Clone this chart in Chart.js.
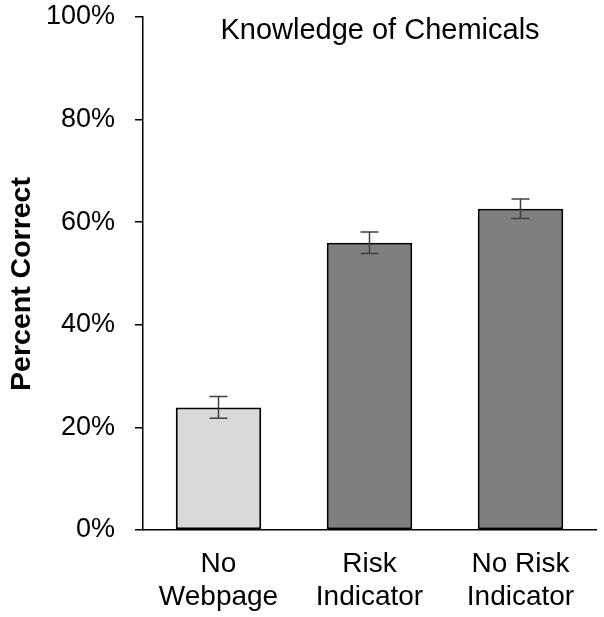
<!DOCTYPE html>
<html>
<head>
<meta charset="utf-8">
<script src="https://cdn.jsdelivr.net/npm/chart.js@4"></script>
<style>
  body { margin: 0; background: #fff; }
</style>
</head>
<body>
<canvas id="myChart" width="604" height="617"></canvas>
<script>
const categories = [["No", "Webpage"], ["Risk", "Indicator"], ["No Risk", "Indicator"]];
const percentCorrect = [23.9, 56.0, 62.6];
const errors = [2.1, 2.1, 1.9];
const yTicks = [0, 20, 40, 60, 80, 100];

const FONT = "Arial, 'Liberation Sans', sans-serif";

const ctx = document.getElementById("myChart").getContext("2d");

new Chart(ctx, {
  type: "bar",
  data: {
    labels: categories,
    datasets: [
      {
        data: percentCorrect,
        backgroundColor: ["#d9d9d9", "#7f7f7f", "#7f7f7f"],
        borderColor: "#000",
        borderWidth: 2,
        borderSkipped: false,
        barPercentage: 0.566,
        categoryPercentage: 1,
      },
    ],
  },
  options: {
    responsive: false,
    animation: false,
    layout: {
      padding: { top: 17, right: 8, left: 0, bottom: 0 },
    },
    plugins: {
      legend: { display: false },
      tooltip: { enabled: false },
    },
    scales: {
      x: {
        grid: { display: false },
        border: { color: "#000", width: 1.5 },
        ticks: {
          color: "#000",
          font: { family: FONT, size: 28, lineHeight: 1.17 },
          padding: 10,
          maxRotation: 0,
        },
        afterFit(scale) {
          scale.height = 87;
          scale.paddingTop = 0;
          scale.paddingBottom = 0;
        },
      },
      y: {
        min: 0,
        max: 100,
        afterBuildTicks(scale) {
          scale.ticks = yTicks.map((v) => ({ value: v }));
        },
        grid: {
          drawOnChartArea: false,
          drawTicks: true,
          tickLength: 8,
          color: "#000",
          lineWidth: 1.5,
        },
        border: { color: "#000", width: 1.5 },
        ticks: {
          color: "#000",
          font: { family: FONT, size: 27 },
          padding: 20,
          callback: (v) => v + "%",
        },
        afterFit(scale) {
          scale.width = 143;
          scale.paddingTop = 0;
          scale.paddingBottom = 0;
        },
      },
    },
  },
  plugins: [
    {
      id: "errorBarsAndText",
      afterDatasetsDraw(chart) {
        const { ctx, scales } = chart;
        const meta = chart.getDatasetMeta(0);

        ctx.save();
        // エラーバー
        ctx.strokeStyle = "#404040";
        ctx.lineWidth = 1.5;
        meta.data.forEach((bar, i) => {
          const x = bar.x;
          const yTop = scales.y.getPixelForValue(percentCorrect[i] + errors[i]);
          const yBot = scales.y.getPixelForValue(percentCorrect[i] - errors[i]);
          ctx.beginPath();
          ctx.moveTo(x, yTop);
          ctx.lineTo(x, yBot);
          ctx.moveTo(x - 9, yTop);
          ctx.lineTo(x + 9, yTop);
          ctx.moveTo(x - 9, yBot);
          ctx.lineTo(x + 9, yBot);
          ctx.stroke();
        });

        // タイトル
        ctx.fillStyle = "#000";
        ctx.font = "29px " + FONT;
        ctx.textAlign = "center";
        ctx.textBaseline = "middle";
        ctx.fillText("Knowledge of Chemicals", 380, 31);

        // Y軸タイトル
        ctx.translate(22, 284);
        ctx.rotate(-Math.PI / 2);
        ctx.font = "bold 28.5px " + FONT;
        ctx.fillText("Percent Correct", 0, 0);
        ctx.restore();
      },
    },
  ],
});
</script>
</body>
</html>
